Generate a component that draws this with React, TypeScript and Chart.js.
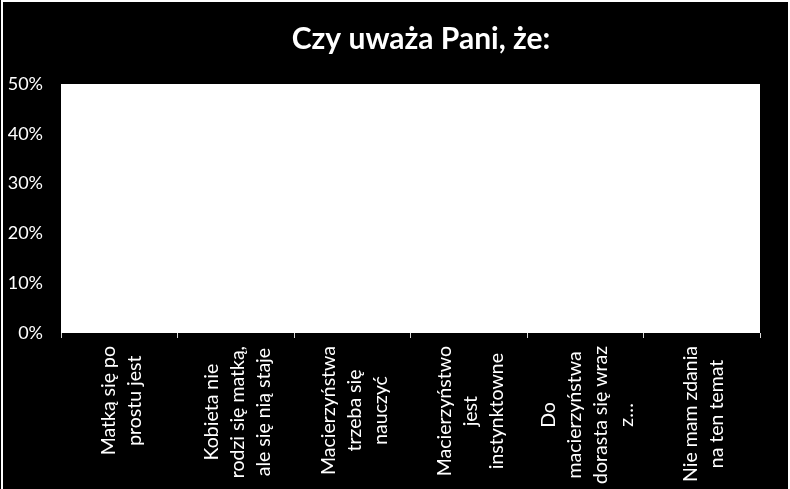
import { useEffect, useRef } from "react"
import { Chart, registerables } from "chart.js"

Chart.register(...registerables)

// dane wykresu
const categories: string[][] = [
  ["Matką się po", "prostu jest"],
  ["Kobieta nie", "rodzi się matką,", "ale się nią staje"],
  ["Macierzyństwa", "trzeba się", "nauczyć"],
  ["Macierzyństwo", "jest", "instynktowne"],
  ["Do", "macierzyństwa", "dorasta się wraz", "z…"],
  ["Nie mam zdania", "na ten temat"],
]
const values = [0, 0, 0, 0, 0, 0]
const yMax = 0.5
const yStep = 0.1
const titleText = "Czy uważa Pani, że:"

const FONT = "Lato, 'Open Sans', sans-serif"

const plotBackground = {
  id: "plotBackground",
  beforeDraw(chart: Chart) {
    const { ctx, chartArea } = chart
    ctx.save()
    ctx.fillStyle = "#ffffff"
    ctx.fillRect(chartArea.left, chartArea.top, chartArea.right - chartArea.left, chartArea.bottom - chartArea.top)
    ctx.restore()
  },
}

// tytuł i etykiety osi X rysowane ręcznie (wyśrodkowane linie, obrót 90°)
const labelsAndTitle = {
  id: "labelsAndTitle",
  afterDraw(chart: Chart) {
    const { ctx } = chart
    const xs = chart.scales.x
    ctx.save()
    ctx.fillStyle = "#ffffff"
    ctx.textAlign = "center"
    ctx.textBaseline = "alphabetic"
    ctx.font = `bold 30px ${FONT}`
    ctx.fillText(titleText, 418, 47)

    ctx.font = `19.5px ${FONT}`
    ctx.textBaseline = "middle"
    const lh = 26
    categories.forEach((lines, i) => {
      const x = xs.getPixelForValue(i) + 2
      const maxW = Math.max(...lines.map((l) => ctx.measureText(l).width))
      const cy = xs.top + 13 + maxW / 2
      ctx.save()
      ctx.translate(x, cy)
      ctx.rotate(-Math.PI / 2)
      lines.forEach((line, j) => {
        ctx.fillText(line, 0, (j - (lines.length - 1) / 2) * lh)
      })
      ctx.restore()
    })
    ctx.restore()
  },
}

function BarChart() {
  const chartRef = useRef<HTMLCanvasElement>(null)
  const chartInstance = useRef<Chart | null>(null)

  useEffect(() => {
    if (!chartRef.current) return
    if (chartInstance.current) chartInstance.current.destroy()
    const ctx = chartRef.current.getContext("2d")
    if (!ctx) return

    chartInstance.current = new Chart(ctx, {
      type: "bar",
      data: {
        labels: categories.map((c) => c.join(" ")),
        datasets: [
          {
            label: "Odpowiedzi",
            data: values,
            backgroundColor: "#4f81bd",
          },
        ],
      },
      options: {
        responsive: true,
        maintainAspectRatio: false,
        animation: false,
        layout: { padding: { top: 82, right: 28, bottom: 0, left: 0 } },
        plugins: {
          legend: { display: false },
          title: { display: false },
          tooltip: { enabled: false },
        },
        scales: {
          x: {
            grid: {
              display: true,
              drawOnChartArea: false,
              drawTicks: true,
              tickLength: 5,
              color: "#d9d9d9",
              offset: true,
            },
            border: { display: false },
            ticks: { display: false },
            afterFit: (scale) => {
              scale.height = 156
            },
          },
          y: {
            min: 0,
            max: yMax,
            grid: { display: false, drawTicks: false },
            border: { display: false },
            ticks: {
              stepSize: yStep,
              color: "#ffffff",
              padding: 18,
              font: { family: FONT, size: 18 },
              callback: (v) => `${Math.round(Number(v) * 100)}%`,
            },
            afterFit: (scale) => {
              scale.width = 58
            },
          },
        },
      },
      plugins: [plotBackground, labelsAndTitle],
    })

    return () => {
      if (chartInstance.current) chartInstance.current.destroy()
    }
  }, [])

  return (
    <div style={{ position: "absolute", left: 3, top: 2, width: 785, height: 487, background: "#000000" }}>
      <canvas ref={chartRef} />
    </div>
  )
}

export default function App() {
  return (
    <div style={{ position: "fixed", left: 0, top: 0, width: 790, height: 489, background: "#ffffff", overflow: "hidden" }}>
      <div style={{ position: "absolute", left: 0, top: 0, width: 1, height: 489, background: "#000000" }} />
      <div style={{ position: "absolute", left: 788, top: 0, width: 2, height: 489, background: "#ffffff" }} />
      <BarChart />
    </div>
  )
}
